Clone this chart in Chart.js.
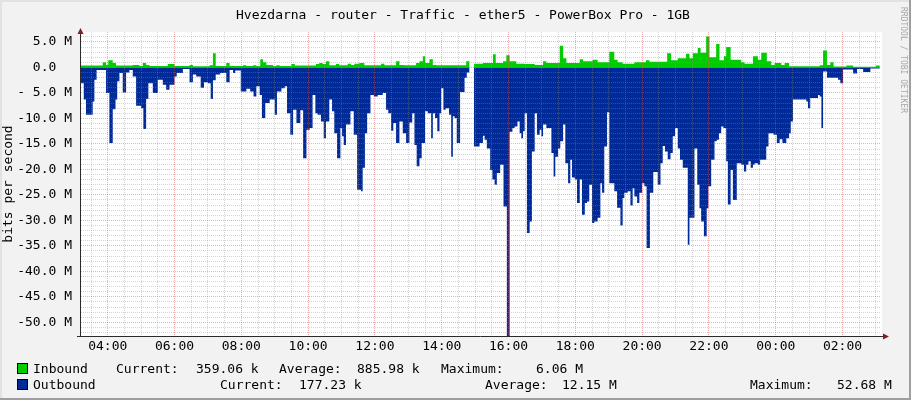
<!DOCTYPE html>
<html>
<head>
<meta charset="utf-8">
<script src="https://cdn.jsdelivr.net/npm/chart.js@4.4.0/dist/chart.umd.min.js"></script>
<style>
  body { margin: 0; background: #fff; }
  #graph { position: relative; width: 911px; height: 400px; background: #f2f2f2; overflow: hidden;
           font-family: "DejaVu Sans Mono", monospace; font-size: 13px; color: #000; }
  #graph canvas { position: absolute; left: 0; top: 0; }
  .txt { position: absolute; white-space: pre; line-height: 15px; }
  .box { position: absolute; width: 9px; height: 9px; border: 1px solid #000; }
  #wm { position: absolute; left: 898px; top: 7px; writing-mode: vertical-rl; font-size: 8px;
        line-height: 10px; color: #a8a8a8; white-space: pre; }
  .shade { position: absolute; }
</style>
</head>
<body>
<div id="graph">
  <canvas id="chart" width="911" height="400"></canvas>
  <div class="txt" style="left:236px;top:7px">Hvezdarna - router - Traffic - ether5 - PowerBox Pro - 1GB</div>
  <div id="wm">RRDTOOL / TOBI OETIKER</div>

  <div class="box" style="left:17px;top:363px;background:#00cc00"></div>
  <div class="txt" style="left:33px;top:361px">Inbound</div>
  <div class="txt" style="left:116px;top:361px">Current:</div>
  <div class="txt" style="left:196px;top:361px">359.06 k</div>
  <div class="txt" style="left:279px;top:361px">Average:</div>
  <div class="txt" style="left:357px;top:361px">885.98 k</div>
  <div class="txt" style="left:441px;top:361px">Maximum:</div>
  <div class="txt" style="left:536px;top:361px">6.06 M</div>

  <div class="box" style="left:17px;top:379px;background:#002a97"></div>
  <div class="txt" style="left:33px;top:377px">Outbound</div>
  <div class="txt" style="left:220px;top:377px">Current:</div>
  <div class="txt" style="left:299px;top:377px">177.23 k</div>
  <div class="txt" style="left:485px;top:377px">Average:</div>
  <div class="txt" style="left:562px;top:377px">12.15 M</div>
  <div class="txt" style="left:750px;top:377px">Maximum:</div>
  <div class="txt" style="left:837px;top:377px">52.68 M</div>

  <div class="shade" style="left:0;top:0;width:911px;height:2px;background:#e2e2e2"></div>
  <div class="shade" style="left:0;top:0;width:2px;height:400px;background:#e2e2e2"></div>
  <div class="shade" style="left:909px;top:0;width:2px;height:400px;background:#9e9e9e"></div>
  <div class="shade" style="left:0;top:398px;width:911px;height:2px;background:#9e9e9e"></div>
</div>

<script>
// times are minutes since midnight of the first day (1440 = next midnight)
// each value holds from its time until the next one (5 min rrd steps)
const outTimes = [
  192, 197, 201, 213, 216, 220, 237, 243, 249, 254, 257, 261, 267, 273, 279, 285,
  291, 300, 304, 309, 313, 321, 330, 339, 345, 351, 360, 364, 375, 387, 393, 399,
  407, 413, 420, 425, 429, 434, 442, 453, 459, 465, 469, 479, 489, 496, 502, 507,
  513, 517, 523, 531, 540, 544, 552, 558, 562, 568, 573, 579, 586, 591, 597, 603,
  608, 613, 617, 623, 628, 632, 638, 643, 647, 652, 658, 661, 664, 668, 676, 682,
  688, 695, 698, 702, 706, 712, 718, 725, 734, 740, 744, 749, 753, 758, 764, 770,
  776, 782, 787, 791, 795, 800, 804, 810, 815, 821, 824, 828, 832, 836, 839, 843,
  847, 853, 857, 860, 863, 867, 873, 881, 885, 890, 898, 908, 914, 917, 921, 927,
  931, 935, 939, 945, 951, 957, 962, 967, 971, 976, 980, 983, 986, 989, 993, 998,
  1002, 1007, 1011, 1016, 1019, 1022, 1028, 1037, 1041, 1044, 1049, 1053, 1058, 1062, 1067, 1071,
  1074, 1079, 1083, 1088, 1092, 1097, 1101, 1105, 1110, 1114, 1120, 1125, 1128, 1132, 1137, 1141,
  1150, 1155, 1161, 1165, 1168, 1174, 1179, 1183, 1186, 1191, 1195, 1200, 1204, 1208, 1214, 1220,
  1228, 1233, 1237, 1241, 1246, 1251, 1255, 1259, 1264, 1268, 1273, 1282, 1285, 1294, 1299, 1303,
  1306, 1311, 1316, 1319, 1324, 1330, 1334, 1338, 1342, 1346, 1351, 1354, 1359, 1363, 1370, 1378,
  1383, 1387, 1391, 1395, 1399, 1402, 1408, 1412, 1423, 1427, 1436, 1442, 1447, 1452, 1459, 1464,
  1467, 1471, 1495, 1498, 1502, 1516, 1519, 1522, 1525, 1532, 1552, 1556, 1561, 1579, 1586, 1597,
  1610
];
// outbound, Mbit/s (drawn below zero)
const outValues = [
  -3.1, -6.3, -9.3, -6.7, -2.4, -0.5, -5.0, -14.8, -8.2, -6.3, -2.7, -1.1, -4.9, -1.0, -0.5, -1.8,
  -7.5, -8.0, -12.1, -6.2, -3.1, -5.0, -2.4, -3.4, -4.4, -3.4, -1.8, -1.1, -0.3, -2.9, -1.4, -1.8,
  -4.0, -2.9, -3.1, -6.2, -2.5, -1.4, -1.1, -2.9, -0.5, -1.1, -0.6, -4.7, -4.2, -4.7, -5.7, -3.7,
  -5.4, -9.9, -7.0, -6.3, -9.3, -4.7, -4.1, -3.7, -9.0, -13.2, -8.3, -10.9, -8.4, -17.8, -12.2, -11.9,
  -5.4, -9.0, -9.3, -10.6, -13.9, -10.6, -6.3, -8.6, -12.9, -17.8, -11.9, -13.5, -15.2, -11.2, -8.6, -13.2,
  -24.0, -24.3, -19.7, -12.9, -9.0, -5.4, -5.7, -5.4, -5.0, -8.3, -9.0, -12.4, -10.9, -14.8, -10.6, -12.9,
  -14.8, -10.8, -9.0, -15.2, -19.4, -17.8, -14.8, -8.6, -9.0, -13.9, -9.0, -9.9, -12.5, -9.0, -4.1, -8.3,
  -8.0, -9.3, -17.5, -9.6, -9.9, -14.8, -4.8, -2.0, -1.0, null, -15.5, -14.8, -13.4, -14.2, -15.9, -20.1,
  -22.0, -23.0, -20.7, -19.1, -27.3, -52.68, -12.6, -11.9, -11.6, -10.6, -12.9, -13.9, -12.5, -9.0, -32.5, -30.2,
  -16.5, -9.0, -13.2, -12.2, -13.5, -11.2, -11.9, -16.8, -21.4, -17.5, -15.9, -14.5, -11.2, -18.8, -22.7, -18.1,
  -21.6, -22.0, -26.6, -22.0, -28.9, -26.6, -26.3, -23.0, -30.5, -30.2, -29.5, -22.7, -24.6, -15.5, -8.8, -22.7,
  -24.3, -27.5, -31.0, -25.6, -24.6, -24.3, -27.1, -23.7, -25.3, -26.6, -24.6, -22.7, -23.3, -35.4, -24.6, -20.5,
  -23.0, -18.8, -15.4, -16.5, -18.0, -16.8, -13.5, -11.9, -15.9, -18.1, -19.7, -34.8, -29.5, -15.9, -23.0, -27.6,
  -30.2, -33.1, -27.6, -23.3, -18.1, -14.5, -14.2, -12.9, -11.6, -11.9, -18.4, -26.9, -20.1, -26.0, -18.8, -19.1,
  -20.4, -19.1, -18.4, -19.7, -19.1, -18.8, -19.1, -18.1, -15.5, -12.9, -13.2, -14.8, -14.1, -14.8, -13.9, -12.9,
  -10.6, -6.3, -6.7, -8.0, -6.0, -5.4, -5.7, -11.9, -0.8, -2.0, -2.4, -3.1, -0.4, -1.2, -0.3, -0.9,
  -0.2
];

const inTimes = [
  192, 231, 237, 241, 249, 255, 285, 297, 303, 309, 315, 348, 360, 387, 393, 423,
  429, 434, 453, 459, 483, 489, 501, 507, 514, 519, 525, 537, 543, 549, 570, 576,
  614, 620, 626, 632, 638, 650, 656, 671, 677, 683, 692, 701, 731, 737, 758, 764,
  773, 794, 800, 806, 810, 818, 824, 830, 884, 890, 898, 914, 932, 937, 950, 956,
  962, 974, 989, 1007, 1022, 1028, 1052, 1058, 1064, 1088, 1094, 1111, 1120, 1141, 1150, 1156,
  1165, 1186, 1207, 1213, 1245, 1252, 1264, 1279, 1285, 1291, 1300, 1305, 1315, 1321, 1333, 1339,
  1347, 1351, 1359, 1378, 1384, 1399, 1408, 1414, 1424, 1432, 1438, 1450, 1456, 1464, 1519, 1525,
  1532, 1538, 1544, 1567, 1579, 1620
];
// inbound, Mbit/s
const inValues = [
  0.4, 1.0, 0.5, 1.4, 0.85, 0.4, 0.5, 0.3, 0.85, 0.5, 0.3, 0.65, 0.3, 0.5, 0.25, 0.45,
  2.8, 0.3, 0.85, 0.3, 0.45, 0.3, 0.45, 0.3, 1.6, 1.0, 0.5, 0.3, 0.45, 0.3, 0.65, 0.4,
  0.65, 0.85, 0.65, 1.2, 0.45, 0.65, 0.45, 0.7, 0.5, 0.7, 0.85, 0.45, 0.7, 0.45, 1.2, 0.5,
  0.45, 0.85, 1.2, 2.2, 0.85, 1.6, 0.5, 0.45, 1.2, null, 0.7, 0.85, 2.6, 0.85, 1.2, 2.4,
  1.2, 0.7, 0.65, 0.5, 1.2, 0.85, 4.25, 1.8, 0.85, 1.6, 1.2, 1.5, 1.0, 3.1, 1.5, 1.0,
  0.7, 1.0, 1.4, 1.1, 2.8, 1.4, 1.8, 2.7, 1.8, 2.8, 3.8, 2.9, 6.06, 2.0, 4.6, 1.4,
  2.2, 4.0, 1.5, 1.0, 0.7, 2.2, 1.5, 2.9, 1.2, 0.5, 0.85, 0.5, 0.85, 0.25, 0.45, 3.3,
  0.5, 1.0, 0.2, 0.4, 0.15, 0.4
];
const endTime = 1627;

const xLabelTimes = [240, 360, 480, 600, 720, 840, 960, 1080, 1200, 1320, 1440, 1560];
const xLabels = ["04:00", "06:00", "08:00", "10:00", "12:00", "14:00", "16:00", "18:00", "20:00", "22:00", "00:00", "02:00"];
const yTickValues = [5, 0, -5, -10, -15, -20, -25, -30, -35, -40, -45, -50];
const yTickLabels = ["5.0 M", "0.0  ", "- 5.0 M", "-10.0 M", "-15.0 M", "-20.0 M", "-25.0 M", "-30.0 M", "-35.0 M", "-40.0 M", "-45.0 M", "-50.0 M"];

const MINOR = "rgba(143,143,143,0.38)";
const MAJOR = "rgba(222,80,80,0.45)";

// turn a step series into points, closing each run before a gap
const steps = function (times, values, end) {
  const pts = [];
  for (let i = 0; i < times.length; i++) {
    if (values[i] === null && i > 0) pts.push({ x: times[i], y: values[i - 1] });
    pts.push({ x: times[i], y: values[i] });
  }
  pts.push({ x: end, y: values[values.length - 1] });
  return pts;
};

const canvasBg = {
  id: "canvasBg",
  beforeDraw(chart) {
    const { ctx, chartArea: a } = chart;
    ctx.save();
    ctx.fillStyle = "#fff";
    ctx.fillRect(a.left, a.top, a.right - a.left + 2, a.bottom - a.top);
    ctx.restore();
  },
};

const axes = {
  id: "axes",
  afterDraw(chart) {
    const { ctx, chartArea: a } = chart;
    ctx.save();
    ctx.strokeStyle = "#2a2a2a";
    ctx.lineWidth = 1;
    ctx.beginPath();
    ctx.moveTo(a.left - 0.5, a.bottom + 1);
    ctx.lineTo(a.left - 0.5, a.top - 1);
    ctx.moveTo(a.left - 4, a.bottom + 0.5);
    ctx.lineTo(a.right + 4, a.bottom + 0.5);
    ctx.stroke();
    ctx.fillStyle = "#801f1f";
    ctx.beginPath();
    ctx.moveTo(a.left - 0.5, a.top - 4);
    ctx.lineTo(a.left - 3.5, a.top + 2);
    ctx.lineTo(a.left + 2.5, a.top + 2);
    ctx.fill();
    ctx.beginPath();
    ctx.moveTo(a.right + 9, a.bottom + 0.5);
    ctx.lineTo(a.right + 3, a.bottom - 2.5);
    ctx.lineTo(a.right + 3, a.bottom + 3.5);
    ctx.fill();
    ctx.restore();
  },
};

Chart.defaults.font.family = '"DejaVu Sans Mono", monospace';
Chart.defaults.font.size = 13;
Chart.defaults.color = "#000";

new Chart(document.getElementById("chart"), {
  type: "line",
  data: {
    datasets: [
      {
        label: "Outbound",
        data: steps(outTimes, outValues, endTime),
        stepped: true,
        fill: "origin",
        backgroundColor: "#002a97",
        borderColor: "transparent",
        borderWidth: 0,
        pointRadius: 0,
      },
      {
        label: "Inbound",
        data: steps(inTimes, inValues, endTime),
        stepped: true,
        fill: "origin",
        backgroundColor: "#00cc00",
        borderColor: "transparent",
        borderWidth: 0,
        pointRadius: 0,
      },
    ],
  },
  options: {
    responsive: false,
    animation: false,
    devicePixelRatio: 1,
    layout: { padding: { top: 32, right: 31, bottom: 0, left: 0 } },
    plugins: {
      legend: { display: false },
      tooltip: { enabled: false },
    },
    scales: {
      x: {
        type: "linear",
        min: 192,
        max: 1627.3,
        afterBuildTicks: (s) => {
          const t = [];
          for (let v = 210; v <= 1620; v += 30) t.push({ value: v });
          s.ticks = t;
        },
        afterFit: (s) => {
          s.height = 64;
        },
        ticks: {
          autoSkip: false,
          maxRotation: 0,
          padding: 3,
          callback: (v) => {
            const i = xLabelTimes.indexOf(v);
            return i < 0 ? "" : xLabels[i];
          },
        },
        grid: {
          z: 1,
          drawTicks: false,
          color: (c) => (c.tick && c.tick.value % 120 === 0 ? MAJOR : MINOR),
        },
        border: { display: false, dash: [1, 1] },
      },
      y: {
        min: -52.68,
        max: 6.95,
        afterBuildTicks: (s) => {
          const t = [];
          for (let v = -52; v <= 6; v++) t.push({ value: v });
          s.ticks = t;
        },
        afterFit: (s) => {
          s.width = 81;
        },
        ticks: {
          autoSkip: false,
          padding: 9,
          callback: (v) => {
            const i = yTickValues.indexOf(v);
            return i < 0 ? "" : yTickLabels[i];
          },
        },
        grid: {
          z: 1,
          drawTicks: false,
          color: (c) => (c.tick && c.tick.value % 5 === 0 ? MAJOR : MINOR),
        },
        border: { display: false, dash: [1, 1] },
        title: {
          display: true,
          text: "bits per second",
          padding: { top: 1, bottom: 0 },
        },
      },
    },
  },
  plugins: [canvasBg, axes],
});
</script>
</body>
</html>
